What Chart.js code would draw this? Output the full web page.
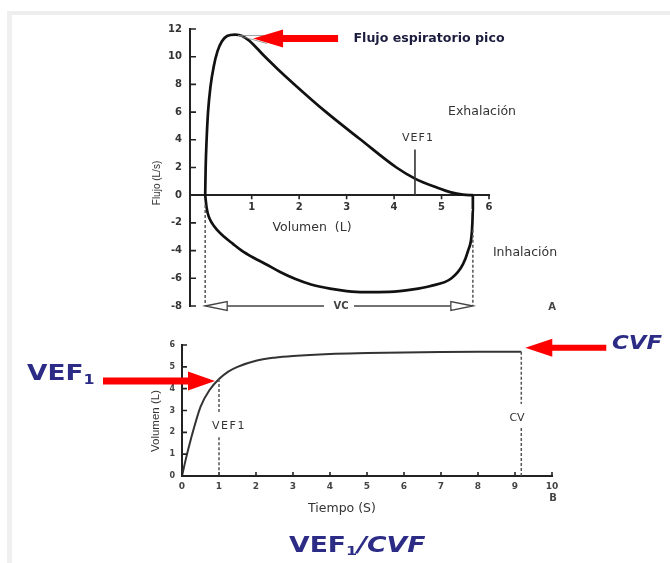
<!DOCTYPE html>
<html lang="es">
<head>
<meta charset="utf-8">
<title>Curva flujo-volumen y volumen-tiempo</title>
<script src="https://cdn.jsdelivr.net/npm/chart.js@4.4.1/dist/chart.umd.min.js"></script>
<style>
  html, body { margin: 0; padding: 0; background: #fff; }
  #page { position: relative; width: 670px; height: 563px; overflow: hidden; background: #fff; font-family: 'DejaVu Sans', sans-serif; }
  #frame { position: absolute; left: 7px; top: 11px; right: 0; bottom: 0; border-top: 4px solid #eeeeee; border-left: 5px solid #f0f0f0; }
  .chartBox { position: absolute; left: 0; width: 670px; }
  .chartBox canvas { display: block; }
  .t { position: absolute; white-space: nowrap; transform: translate(-50%, -50%); line-height: 1; color: #333; }
  .rot { transform: translate(-50%, -50%) rotate(-90deg); }
  .small { font-size: 12.5px; }
  .blue { color: #2c2c86; font-weight: bold; transform-origin: left center; transform: translate(0, -50%) scaleX(1.2); }
  .blue sub { font-size: 0.6em; vertical-align: -0.25em; }
</style>
</head>
<body>
<div id="page">
  <div id="frame"></div>
  <div class="chartBox" style="top:0;height:330px"><canvas id="loopChart" width="670" height="330"></canvas></div>
  <div class="chartBox" style="top:330px;height:233px"><canvas id="timeChart" width="670" height="233"></canvas></div>

  <!-- textos de la curva A -->
  <div class="t" style="left:429px;top:38px;font-size:12px;font-weight:bold;color:#1c1c3e;transform:translate(-50%,-50%) scaleX(1.05)">Flujo espiratorio pico</div>
  <div class="t small" style="left:482px;top:111px">Exhalación</div>
  <div class="t small" style="left:525px;top:252px">Inhalación</div>
  <div class="t" style="left:418px;top:137px;font-size:11px;letter-spacing:1px">VEF1</div>
  <div class="t small" style="left:312px;top:227px">Volumen&nbsp; (L)</div>
  <div class="t rot" style="left:157px;top:183px;font-size:10px;font-family:'Liberation Sans'">Flujo (L/s)</div>
  <div class="t" style="left:341px;top:306px;font-size:10px;font-weight:bold;color:#444">VC</div>
  <div class="t" style="left:552px;top:307px;font-size:10px;font-weight:bold;color:#444">A</div>

  <!-- textos de la curva B -->
  <div class="t rot" style="left:156px;top:421px;font-size:11.5px;font-family:'Liberation Sans'">Volumen (L)</div>
  <div class="t" style="left:229px;top:425px;font-size:11px;letter-spacing:1.5px">VEF1</div>
  <div class="t" style="left:517px;top:417px;font-size:11px">CV</div>
  <div class="t small" style="left:342px;top:508px">Tiempo (S)</div>
  <div class="t" style="left:553px;top:498px;font-size:10px;font-weight:bold;color:#444">B</div>

  <div class="t blue" style="left:27px;top:374px;font-size:22px">VEF<sub>1</sub></div>
  <div class="t blue" style="left:612px;top:342px;font-size:19px;font-style:italic">CVF</div>
  <div class="t blue" style="left:289px;top:546px;font-size:21px;transform:translate(0,-50%) scaleX(1.27)">VEF<sub>1</sub><i>/CVF</i></div>
</div>

<script>
// Curva A: flujo (L/s) frente a volumen (L)
const expVol   = [0.02, 0.03, 0.05, 0.08, 0.13, 0.2, 0.28, 0.37, 0.48, 0.65, 0.8, 0.95, 1.1, 1.25, 1.55, 1.9, 2.55, 3.3, 4.05, 4.44, 4.9, 5.2, 5.45, 5.66];
const expFlow  = [0, 2, 4, 6, 7.8, 9.3, 10.4, 11.1, 11.5, 11.6, 11.5, 11.15, 10.65, 10.1, 9.1, 8, 6.05, 4, 2, 1.2, 0.55, 0.2, 0.04, 0];
const inspVol  = [5.66, 5.66, 5.65, 5.63, 5.56, 5.45, 5.21, 4.75, 4.4, 3.9, 3.35, 3.0, 2.65, 2.25, 1.91, 1.6, 1.31, 1.03, 0.79, 0.6, 0.42, 0.27, 0.16, 0.09, 0.05, 0.02];
const inspFlow = [0, -1, -2, -3, -4, -5, -6, -6.57, -6.8, -6.98, -7, -6.92, -6.75, -6.45, -6.04, -5.55, -5, -4.5, -4, -3.5, -3, -2.5, -2, -1.5, -0.9, 0];
const flowTicks = [-8, -6, -4, -2, 0, 2, 4, 6, 8, 10, 12];
const volTicks = [1, 2, 3, 4, 5, 6];
const vef1Vol = 4.44;

// Curva B: volumen (L) frente a tiempo (s)
const timeS = [0, 0.1, 0.25, 0.5, 0.75, 1, 1.25, 1.5, 2, 2.5, 3, 4, 5, 6, 7, 8, 9.17];
const volL  = [0, 0.75, 1.75, 3.17, 3.95, 4.44, 4.78, 5.0, 5.28, 5.42, 5.5, 5.59, 5.63, 5.66, 5.68, 5.69, 5.69];
const timeTicks = [0, 1, 2, 3, 4, 5, 6, 7, 8, 9, 10];
const volTicksB = [0, 1, 2, 3, 4, 5, 6];
const vef1Time = 1;

const pts = (xs, ys) => xs.map((v, i) => ({ x: v, y: ys[i] }));

function dashed(ctx, x1, y1, x2, y2) {
    ctx.save();
    ctx.setLineDash([3, 2]);
    ctx.strokeStyle = '#555';
    ctx.lineWidth = 1.5;
    ctx.beginPath();
    ctx.moveTo(x1, y1);
    ctx.lineTo(x2, y2);
    ctx.stroke();
    ctx.restore();
}

// flecha roja: dir = -1 apunta a la izquierda, 1 a la derecha
function redArrow(ctx, tipX, tipY, dir, headLen, headHalf, tailLen, bodyHalf) {
    const s = -dir;
    ctx.save();
    ctx.fillStyle = '#ff0000';
    ctx.beginPath();
    ctx.moveTo(tipX, tipY);
    ctx.lineTo(tipX + s * headLen, tipY - headHalf);
    ctx.lineTo(tipX + s * headLen, tipY - bodyHalf);
    ctx.lineTo(tipX + s * tailLen, tipY - bodyHalf);
    ctx.lineTo(tipX + s * tailLen, tipY + bodyHalf);
    ctx.lineTo(tipX + s * headLen, tipY + bodyHalf);
    ctx.lineTo(tipX + s * headLen, tipY + headHalf);
    ctx.closePath();
    ctx.fill();
    ctx.restore();
}

function openHead(ctx, tipX, y, dir, len, half) {
    ctx.beginPath();
    ctx.moveTo(tipX, y);
    ctx.lineTo(tipX - dir * len, y - half);
    ctx.lineTo(tipX - dir * len, y + half);
    ctx.closePath();
    ctx.fillStyle = '#fff';
    ctx.fill();
    ctx.stroke();
}

// marcas de eje hacia dentro
function axisTicks(chart, xLine, lenX, lenY) {
    const { ctx, scales: { x, y }, chartArea } = chart;
    ctx.save();
    ctx.strokeStyle = '#222';
    ctx.lineWidth = 1.6;
    ctx.beginPath();
    y.ticks.forEach(t => {
        const py = y.getPixelForValue(t.value);
        ctx.moveTo(chartArea.left, py);
        ctx.lineTo(chartArea.left + lenY, py);
    });
    x.ticks.forEach(t => {
        const px = x.getPixelForValue(t.value);
        ctx.moveTo(px, xLine);
        ctx.lineTo(px, xLine + lenX);
    });
    ctx.stroke();
    ctx.restore();
}

const loopMarks = {
    id: 'loopMarks',
    afterDatasetsDraw(chart) {
        const { ctx, scales: { x, y } } = chart;
        axisTicks(chart, y.getPixelForValue(0), 4, 6);

        const xl = x.getPixelForValue(inspVol[inspVol.length - 1]);
        const xr = x.getPixelForValue(expVol[expVol.length - 1]);
        const yb = y.getPixelForValue(flowTicks[0]);
        dashed(ctx, xl, y.getPixelForValue(-0.7), xl, yb);
        dashed(ctx, xr, y.getPixelForValue(-2.5), xr, yb);

        // flecha VC
        ctx.save();
        ctx.strokeStyle = '#444';
        ctx.lineWidth = 1.3;
        const mid = (xl + xr) / 2;
        ctx.beginPath();
        ctx.moveTo(xl + 22, yb); ctx.lineTo(mid - 15, yb);
        ctx.moveTo(mid + 15, yb); ctx.lineTo(xr - 22, yb);
        ctx.stroke();
        openHead(ctx, xl, yb, -1, 22, 4.5);
        openHead(ctx, xr, yb, 1, 22, 4.5);
        ctx.restore();

        // marca VEF1
        const xv = x.getPixelForValue(vef1Vol);
        ctx.save();
        ctx.strokeStyle = '#333';
        ctx.lineWidth = 1.6;
        ctx.beginPath();
        ctx.moveTo(xv, y.getPixelForValue(0));
        ctx.lineTo(xv, y.getPixelForValue(3.3));
        ctx.stroke();
        ctx.restore();

        // flujo espiratorio pico
        const iPk = expFlow.indexOf(Math.max(...expFlow));
        const px = x.getPixelForValue(expVol[iPk]);
        const py = y.getPixelForValue(expFlow[iPk]);
        const tipX = px + 18, tipY = py + 4;
        ctx.save();
        ctx.strokeStyle = '#888';
        ctx.lineWidth = 0.8;
        ctx.beginPath();
        ctx.moveTo(px + 3, py + 1); ctx.lineTo(tipX + 14, tipY - 3);
        ctx.moveTo(px + 3, py + 1); ctx.lineTo(tipX + 14, tipY + 5);
        ctx.stroke();
        ctx.restore();
        redArrow(ctx, tipX, tipY, -1, 30, 9, 85, 3.5);
    }
};

const timeMarks = {
    id: 'timeMarks',
    afterDatasetsDraw(chart) {
        const { ctx, scales: { x, y }, chartArea } = chart;
        axisTicks(chart, chartArea.bottom, -4, 5);

        const yb = chartArea.bottom;
        // VEF1
        const xv = x.getPixelForValue(vef1Time);
        const yv = y.getPixelForValue(volL[timeS.indexOf(vef1Time)]);
        dashed(ctx, xv, yv, xv, y.getPixelForValue(2.9));
        dashed(ctx, xv, y.getPixelForValue(1.78), xv, yb);
        // CV
        const xc = x.getPixelForValue(timeS[timeS.length - 1]);
        const yc = y.getPixelForValue(volL[volL.length - 1]);
        dashed(ctx, xc, yc, xc, y.getPixelForValue(3.3));
        dashed(ctx, xc, y.getPixelForValue(2.2), xc, yb);

        redArrow(ctx, xv - 4, yv + 2, 1, 27, 9.5, 112, 3.5);
        redArrow(ctx, xc + 4, yc - 4, -1, 27, 9, 81, 3);
    }
};

function fixedTicks(list) {
    return scale => { scale.ticks = list.map(v => ({ value: v })); };
}

const tickFont = { family: 'DejaVu Sans', size: 10, weight: 'bold' };

new Chart(document.getElementById('loopChart'), {
    type: 'line',
    data: {
        datasets: [
            { label: 'Exhalación', data: pts(expVol, expFlow), borderColor: '#111', borderWidth: 2.7, pointRadius: 0, cubicInterpolationMode: 'monotone', fill: false },
            { label: 'Inhalación', data: pts(inspVol, inspFlow), borderColor: '#111', borderWidth: 2.7, pointRadius: 0, cubicInterpolationMode: 'monotone', fill: false }
        ]
    },
    options: {
        responsive: false,
        animation: false,
        layout: { padding: { left: 151, right: 181, top: 29, bottom: 24 } },
        plugins: { legend: { display: false }, tooltip: { enabled: false } },
        scales: {
            x: {
                type: 'linear', min: -0.3, max: 6, position: { y: 0 },
                grid: { display: false, drawTicks: false },
                border: { display: true, color: '#222', width: 2 },
                ticks: { padding: 6, color: '#333', font: tickFont },
                afterBuildTicks: fixedTicks(volTicks)
            },
            y: {
                type: 'linear', min: -8, max: 12,
                grid: { display: false, drawTicks: false },
                border: { display: true, color: '#222', width: 2 },
                ticks: { padding: 8, color: '#333', font: tickFont },
                afterBuildTicks: fixedTicks(flowTicks),
                afterFit: s => { s.width = 39; }
            }
        }
    },
    plugins: [loopMarks]
});

new Chart(document.getElementById('timeChart'), {
    type: 'line',
    data: {
        datasets: [
            { label: 'Volumen', data: pts(timeS, volL), borderColor: '#333', borderWidth: 2, pointRadius: 0, cubicInterpolationMode: 'monotone', fill: false }
        ]
    },
    options: {
        responsive: false,
        animation: false,
        layout: { padding: { left: 152, right: 118, top: 15, bottom: 67 } },
        plugins: { legend: { display: false }, tooltip: { enabled: false } },
        scales: {
            x: {
                type: 'linear', min: 0, max: 10,
                grid: { display: false, drawTicks: false },
                border: { display: true, color: '#222', width: 2 },
                ticks: { padding: 5, color: '#444', font: { family: 'DejaVu Sans', size: 9, weight: 'bold' } },
                afterBuildTicks: fixedTicks(timeTicks),
                afterFit: s => { s.height = 20; }
            },
            y: {
                type: 'linear', min: 0, max: 6,
                grid: { display: false, drawTicks: false },
                border: { display: true, color: '#222', width: 2 },
                ticks: { padding: 7, color: '#444', font: { family: 'DejaVu Sans', size: 8, weight: 'bold' } },
                afterBuildTicks: fixedTicks(volTicksB),
                afterFit: s => { s.width = 30; }
            }
        }
    },
    plugins: [timeMarks]
});
</script>
</body>
</html>
